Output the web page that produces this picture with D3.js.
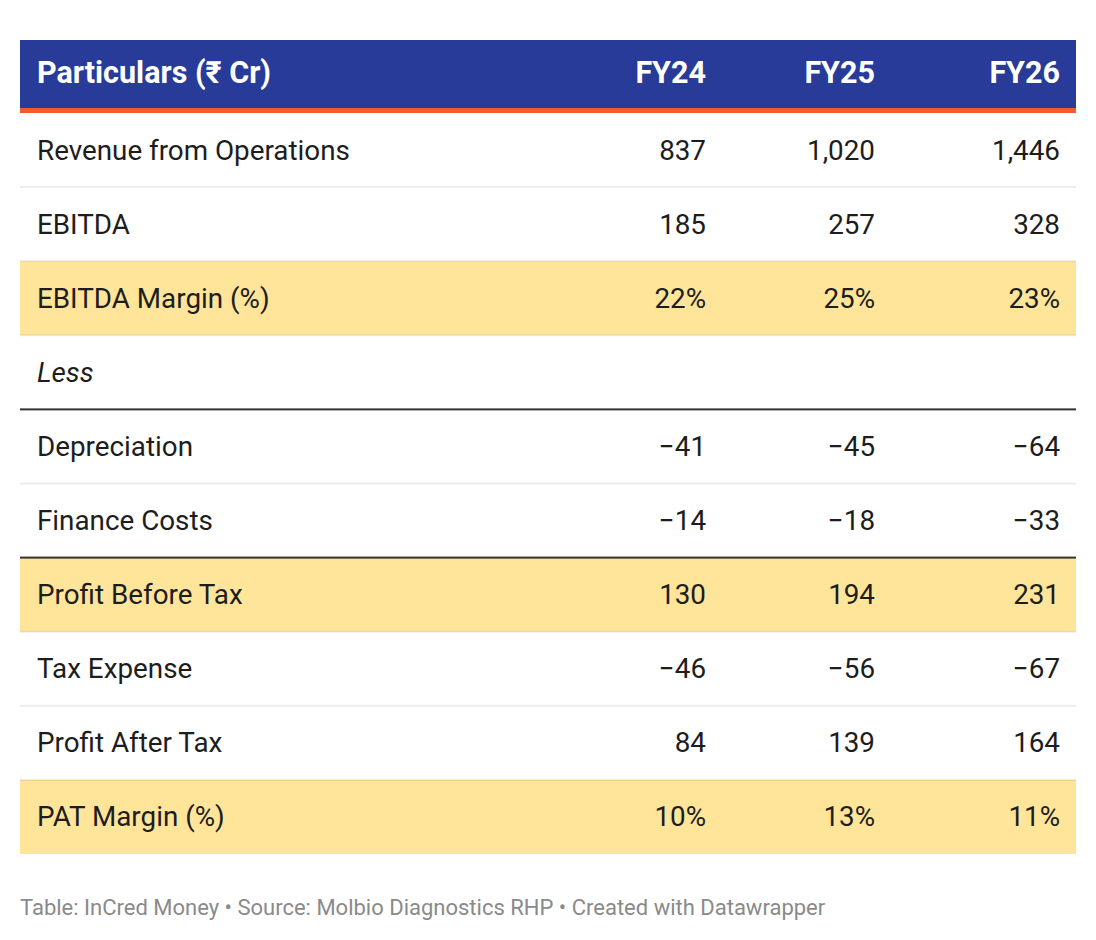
<!DOCTYPE html>
<html>
<head>
<meta charset="utf-8">
<script src="https://cdn.jsdelivr.net/npm/d3@7"></script>
<style>
  body { margin: 0; background: #fff; }
  svg text { font-family: Roboto, "Noto Sans", sans-serif; }
</style>
</head>
<body>
<script>
    //table data
    var columns = ["FY24", "FY25", "FY26"];
    var rowLabels = ["Revenue from Operations", "EBITDA", "EBITDA Margin (%)", "Less",
        "Depreciation", "Finance Costs", "Profit Before Tax", "Tax Expense",
        "Profit After Tax", "PAT Margin (%)"];
    var fy24 = [837, 185, 22, null, -41, -14, 130, -46, 84, 10];
    var fy25 = [1020, 257, 25, null, -45, -18, 194, -56, 139, 13];
    var fy26 = [1446, 328, 23, null, -64, -33, 231, -67, 164, 11];
    var percentRows = ["EBITDA Margin (%)", "PAT Margin (%)"];
    var highlightRows = ["EBITDA Margin (%)", "Profit Before Tax", "PAT Margin (%)"];
    var darkRuleRows = ["Less", "Finance Costs"];
    var italicRows = ["Less"];
    var footer = "Table: InCred Money \u2022 Source: Molbio Diagnostics RHP \u2022 Created with Datawrapper";

    var width = 1096;
    var height = 940;

    var margin = { left: 20, right: 20, top: 40 };
    var headerHeight = 68;
    var accentHeight = 5;
    var tableTop = margin.top + headerHeight + accentHeight;
    var tableBottom = 854;

    var svg = d3.select("body")
        .append("svg")
        .attr("width", width)
        .attr("height", height);

    //row scale
    var yScale = d3.scaleBand()
        .domain(rowLabels)
        .range([tableTop, tableBottom]);

    //right edges of the value columns
    var xScale = d3.scaleOrdinal()
        .domain(columns)
        .range([706, 875, 1060]);

    var fmt = d3.format(",");
    var values = [fy24, fy25, fy26];

    //header
    svg.append("rect")
        .attr("x", margin.left)
        .attr("y", margin.top)
        .attr("width", width - margin.left - margin.right)
        .attr("height", headerHeight)
        .attr("fill", "#283b98");

    svg.append("rect")
        .attr("x", margin.left)
        .attr("y", margin.top + headerHeight)
        .attr("width", width - margin.left - margin.right)
        .attr("height", accentHeight)
        .attr("fill", "#f15d2a");

    var headerY = margin.top + headerHeight / 2;

    svg.append("text")
        .attr("x", 37)
        .attr("y", headerY)
        .attr("dy", "0.3em")
        .attr("fill", "#fff")
        .attr("font-size", 30.5)
        .attr("font-weight", 700)
        .text("Particulars (\u20b9 Cr)");

    svg.selectAll(".colhead")
        .data(columns)
        .enter()
        .append("text")
        .attr("class", "colhead")
        .attr("x", function (d) { return xScale(d); })
        .attr("y", headerY)
        .attr("dy", "0.3em")
        .attr("text-anchor", "end")
        .attr("fill", "#fff")
        .attr("font-size", 30.5)
        .attr("font-weight", 700)
        .text(function (d) { return d; });

    //highlighted row fills
    svg.selectAll(".hl")
        .data(highlightRows)
        .enter()
        .append("rect")
        .attr("class", "hl")
        .attr("x", margin.left)
        .attr("y", function (d) { return yScale(d); })
        .attr("width", width - margin.left - margin.right)
        .attr("height", yScale.bandwidth())
        .attr("fill", "#fee59a");

    //row rules
    svg.selectAll(".rule")
        .data(rowLabels.slice(0, rowLabels.length - 1))
        .enter()
        .append("rect")
        .attr("class", "rule")
        .attr("x", margin.left)
        .attr("y", function (d) { return yScale(d) + yScale.bandwidth() - 1; })
        .attr("width", width - margin.left - margin.right)
        .attr("height", 2)
        .attr("fill", function (d) {
            return darkRuleRows.indexOf(d) >= 0 ? "#333" : "rgba(0,0,0,0.07)";
        });

    //row labels
    svg.selectAll(".label")
        .data(rowLabels)
        .enter()
        .append("text")
        .attr("class", "label")
        .attr("x", 37)
        .attr("y", function (d) { return yScale(d) + yScale.bandwidth() / 2; })
        .attr("dy", "0.34em")
        .attr("fill", "#1d1d1d")
        .attr("font-size", 27.8)
        .attr("font-style", function (d) { return italicRows.indexOf(d) >= 0 ? "italic" : "normal"; })
        .text(function (d) { return d; });

    //value cells
    columns.forEach(function (col, c) {
        svg.selectAll(".val" + c)
            .data(values[c])
            .enter()
            .append("text")
            .attr("class", "val" + c)
            .attr("x", xScale(col))
            .attr("y", function (d, i) { return yScale(rowLabels[i]) + yScale.bandwidth() / 2; })
            .attr("dy", "0.34em")
            .attr("text-anchor", "end")
            .attr("fill", "#1d1d1d")
            .attr("font-size", 27.8)
            .text(function (d, i) {
                if (d === null) return "";
                return percentRows.indexOf(rowLabels[i]) >= 0 ? d + "%" : fmt(d);
            });
    });

    //footer
    svg.append("text")
        .attr("x", margin.left)
        .attr("y", 915)
        .attr("fill", "#8a8a8a")
        .attr("font-size", 22)
        .text(footer);
</script>
</body>
</html>
